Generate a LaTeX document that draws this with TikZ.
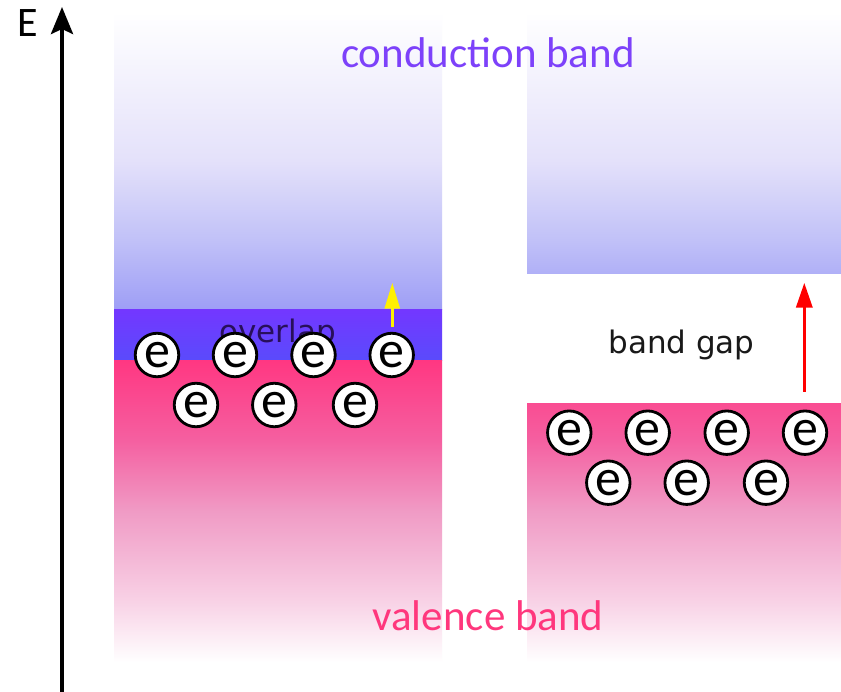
\documentclass[tikz,border=0pt]{standalone}
\usepackage{fontspec}
\setmainfont{Carlito}
\newfontfamily\gapfont{DejaVu Sans}
\usetikzlibrary{arrows.meta}
\definecolor{condtxt}{RGB}{125,65,250}
\definecolor{valtxt}{RGB}{255,55,125}
\definecolor{gaptxt}{RGB}{25,25,25}
\definecolor{ovltxt}{RGB}{40,15,90}
\definecolor{cb1}{RGB}{158,158,246}
\definecolor{cb2}{RGB}{195,195,248}
\definecolor{cb3}{RGB}{228,225,250}
\definecolor{ov1}{RGB}{115,55,255}
\definecolor{ov2}{RGB}{90,75,252}
\definecolor{vb0}{RGB}{255,55,130}
\definecolor{vb1}{RGB}{245,95,160}
\definecolor{vb2}{RGB}{240,155,197}
\definecolor{vb3}{RGB}{248,210,230}
\definecolor{yarrow}{RGB}{255,240,0}
\definecolor{rarrow}{RGB}{255,0,0}
\pgfdeclareverticalshading{condshade}{100bp}{color(0bp)=(cb1); color(25bp)=(cb1); color(37.5bp)=(cb2); color(50bp)=(cb3); color(75bp)=(white); color(100bp)=(white)}
\pgfdeclareverticalshading{valshade}{100bp}{color(0bp)=(white); color(25bp)=(white); color(35bp)=(vb3); color(50bp)=(vb2); color(62bp)=(vb1); color(75bp)=(vb0); color(100bp)=(vb0)}
\tikzset{
  electron/.style={circle, draw=black, line width=2.8pt, fill=white, minimum size=43.5pt, inner sep=0pt, font=\fontsize{52}{52}\selectfont},
  bandlabel/.style={anchor=base, font=\fontsize{43}{43}\selectfont},
  gaplabel/.style={anchor=base, font=\gapfont\fontsize{31}{31}\selectfont},
}
\begin{document}
\begin{tikzpicture}[x=1pt,y=-1pt]
\useasboundingbox (0,0) rectangle (841,692);
\fill[white] (0,0) rectangle (841,692);
% left band
\shade[shading=condshade] (114,12) rectangle (442,309.5);
\shade[top color=ov1, bottom color=ov2] (114,309.5) rectangle (442,361);
\shade[shading=valshade] (114,361) rectangle (442,662);
% right band
\begin{scope}
\clip (527,0) rectangle (841,274);
\shade[shading=condshade] (527,12) rectangle (841,309.5);
\end{scope}
\begin{scope}
\clip (527,404) rectangle (841,692);
\shade[shading=valshade] (527,361) rectangle (841,662);
\end{scope}
% labels
\node[bandlabel, text=condtxt] (cond) at (488,67.7) {conduction band};
\node[bandlabel, text=valtxt] (val) at (488,630) {valence band};
\node[gaplabel, text=gaptxt] (gap) at (681.5,354) {band gap};
\node[gaplabel, text=ovltxt] (ovl) at (277.5,343) {overlap};
\node[anchor=base west, font=\fontsize{42}{42}\selectfont] (E) at (14,36.7) {E};
% axis
\coordinate (ax0) at (62,692);
\coordinate (ax1) at (62,7);
\draw[line width=4pt, -{Stealth[length=27pt,width=22pt,inset=5pt]}] (ax0) -- (ax1);
% arrows
\coordinate (ya0) at (392.3,327);
\coordinate (ya1) at (392.3,282.7);
\draw[yarrow, line width=3pt, -{Triangle[length=26pt,width=15pt]}] (ya0) -- (ya1);
\coordinate (ra0) at (804.3,392);
\coordinate (ra1) at (804.3,282.7);
\draw[rarrow, line width=3.5pt, -{Triangle[length=25pt,width=16pt]}] (ra0) -- (ra1);
% electrons left
\node[electron] (l1) at (157,355) {e};
\node[electron] (l2) at (235,355) {e};
\node[electron] (l3) at (313.5,355) {e};
\node[electron] (l4) at (391.7,355) {e};
\node[electron] (l5) at (196,405) {e};
\node[electron] (l6) at (274.3,405) {e};
\node[electron] (l7) at (355,405) {e};
% electrons right
\node[electron] (r1) at (569.3,432.7) {e};
\node[electron] (r2) at (647.7,432.7) {e};
\node[electron] (r3) at (726.7,432.7) {e};
\node[electron] (r4) at (805,432.7) {e};
\node[electron] (r5) at (608.3,482.7) {e};
\node[electron] (r6) at (686.7,482.7) {e};
\node[electron] (r7) at (766,482.7) {e};
\end{tikzpicture}
\end{document}
